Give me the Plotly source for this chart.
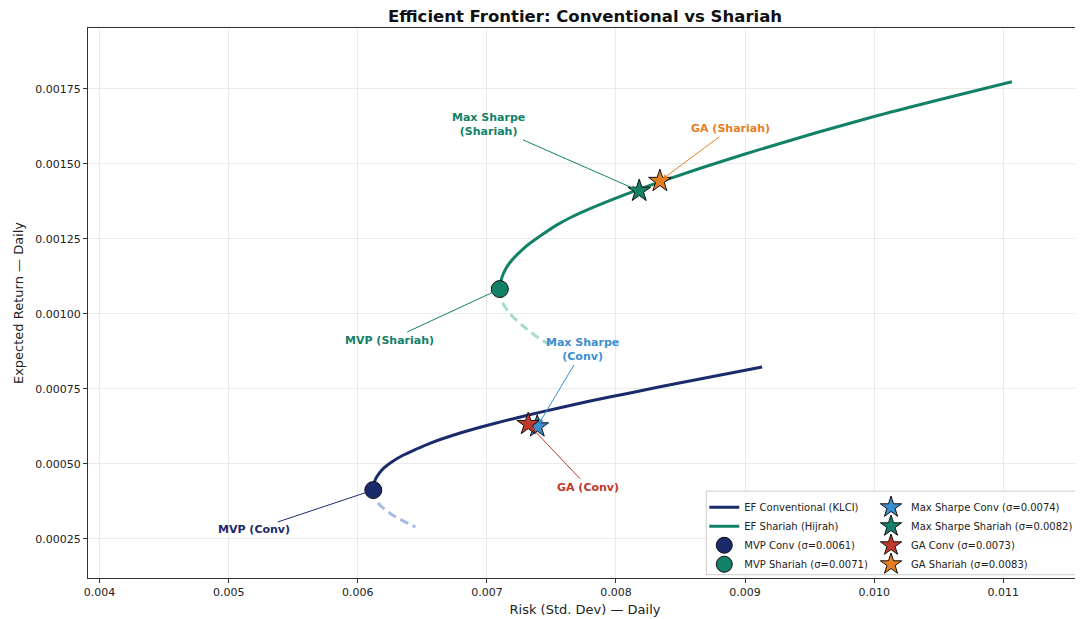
import plotly.graph_objects as go

# ---- data ----
conv_ef_risk = [0.006116, 0.006122, 0.006138, 0.006165, 0.006205, 0.00626, 0.00635, 0.00645,
                0.006558, 0.0068, 0.00705, 0.0073, 0.00755, 0.0078, 0.0081, 0.0085, 0.009132]
conv_ef_ret = [0.000413, 0.00043, 0.00045, 0.000469, 0.000488, 0.000506, 0.000529, 0.000549,
               0.000569, 0.000604, 0.000634, 0.000661, 0.000686, 0.00071, 0.000736, 0.000771,
               0.000823]
conv_low_risk = [0.006116, 0.006128, 0.006157, 0.006179, 0.006269, 0.006446]
conv_low_ret = [0.000413, 0.00039, 0.00037, 0.00036, 0.00033, 0.00029]

shar_ef_risk = [0.0071, 0.007104, 0.007115, 0.007134, 0.00716, 0.007195, 0.00724, 0.00731,
                0.0074, 0.00754, 0.00766, 0.0078, 0.00806, 0.00834, 0.009, 0.01, 0.011067]
shar_ef_ret = [0.001083, 0.0011, 0.00112, 0.00114, 0.00116, 0.00118, 0.0012, 0.001228,
               0.001256, 0.001296, 0.001324, 0.001351, 0.001396, 0.00144, 0.001533, 0.001658,
               0.001774]
shar_low_risk = [0.0071, 0.00712, 0.00718, 0.00728, 0.0074, 0.00751]
shar_low_ret = [0.001083, 0.00104, 0.001, 0.00096, 0.00092, 0.000893]

points = {
    "MVP Conv": (0.00612, 0.000413, "0.0061"),
    "MVP Shariah": (0.0071, 0.001083, "0.0071"),
    "Max Sharpe Conv": (0.00739, 0.000625, "0.0074"),
    "Max Sharpe Shariah": (0.00818, 0.00141, "0.0082"),
    "GA Conv": (0.00732, 0.000633, "0.0073"),
    "GA Shariah": (0.00834, 0.001443, "0.0083"),
}

NAVY = "#1b2a6b"
TEAL = "#138068"
C_MS_CONV = "#3a8fd0"
C_GA_CONV = "#c0392b"
C_GA_SHAR = "#e67e22"

FONT = "DejaVu Sans"

fig = go.Figure()

# dashed inefficient parts
fig.add_trace(go.Scatter(x=conv_low_risk, y=conv_low_ret, mode="lines", line_shape="spline",
                         line=dict(color="#a9b9e6", width=3, dash="9px,5px", smoothing=0.8),
                         showlegend=False, hoverinfo="skip"))
fig.add_trace(go.Scatter(x=shar_low_risk, y=shar_low_ret, mode="lines", line_shape="spline",
                         line=dict(color="#a6dccc", width=3, dash="9px,5px", smoothing=0.8),
                         showlegend=False, hoverinfo="skip"))

# efficient frontiers
fig.add_trace(go.Scatter(x=conv_ef_risk, y=conv_ef_ret, mode="lines", line_shape="spline",
                         line=dict(color=NAVY, width=3, smoothing=0.8),
                         name="EF Conventional (KLCI)", legend="legend", legendrank=1))
fig.add_trace(go.Scatter(x=shar_ef_risk, y=shar_ef_ret, mode="lines", line_shape="spline",
                         line=dict(color=TEAL, width=3, smoothing=0.8),
                         name="EF Shariah (Hijrah)", legend="legend", legendrank=2))

def add_pt(key, color, symbol, size, legend, rank):
    x, y, s = points[key]
    fig.add_trace(go.Scatter(x=[x], y=[y], mode="markers",
                             marker=dict(color=color, symbol=symbol, size=size,
                                         line=dict(color="#111111", width=1)),
                             name=f"{key} (σ={s})", legend=legend, legendrank=rank))

add_pt("MVP Conv", NAVY, "circle", 17, "legend", 3)
add_pt("MVP Shariah", TEAL, "circle", 17, "legend", 4)
add_pt("Max Sharpe Conv", C_MS_CONV, "star", 17, "legend2", 1)
add_pt("Max Sharpe Shariah", TEAL, "star", 17, "legend2", 2)
add_pt("GA Conv", C_GA_CONV, "star", 17, "legend2", 3)
add_pt("GA Shariah", C_GA_SHAR, "star", 17, "legend2", 4)

# annotations: (text, point key, text x, text y, color)
ann = [
    ("Max Sharpe<br>(Shariah)", "Max Sharpe Shariah", 0.007016, 0.00163, TEAL),
    ("GA (Shariah)", "GA Shariah", 0.008884, 0.001617, C_GA_SHAR),
    ("MVP (Shariah)", "MVP Shariah", 0.006248, 0.000913, TEAL),
    ("Max Sharpe<br>(Conv)", "Max Sharpe Conv", 0.007744, 0.00088, C_MS_CONV),
    ("GA (Conv)", "GA Conv", 0.007783, 0.000423, C_GA_CONV),
    ("MVP (Conv)", "MVP Conv", 0.005194, 0.00028, NAVY),
]
for text, key, tx, ty, col in ann:
    px, py, _ = points[key]
    fig.add_annotation(x=px, y=py, ax=tx, ay=ty, axref="x", ayref="y", xref="x", yref="y",
                       text=f"<b>{text}</b>", showarrow=True, arrowhead=2, arrowsize=1,
                       arrowwidth=1, arrowcolor=col, standoff=3,
                       font=dict(family=FONT, size=11, color=col), align="center")

# legend frame
fig.add_shape(type="rect", xref="paper", yref="paper", x0=0.622, x1=0.998, y0=0.006, y1=0.158,
              fillcolor="rgba(255,255,255,0.85)", line=dict(color="#cccccc", width=1),
              layer="above")

# page body has an 8px margin: shrink figure and offset margins to compensate
fig.update_layout(
    width=1075, height=611,
    margin=dict(l=80, r=1, t=20, b=41),
    paper_bgcolor="white", plot_bgcolor="white",
    font=dict(family=FONT, size=11, color="#222222"),
    title=dict(text="<b>Efficient Frontier: Conventional vs Shariah</b>", x=0.5, xref="paper",
               xanchor="center", y=0.987, yanchor="middle",
               font=dict(family=FONT, size=16.5, color="#111111")),
    legend=dict(x=0.62, y=0.155, xanchor="left", yanchor="top", bgcolor="rgba(0,0,0,0)",
                font=dict(family=FONT, size=10, color="#222222"), tracegroupgap=0,
                traceorder="normal", itemwidth=30),
    legend2=dict(x=0.996, y=0.155, xanchor="right", yanchor="top", bgcolor="rgba(0,0,0,0)",
                 font=dict(family=FONT, size=10, color="#222222"), tracegroupgap=0,
                 traceorder="normal", itemwidth=30),
    xaxis=dict(range=[0.00391, 0.01161], tickvals=[0.004, 0.005, 0.006, 0.007, 0.008, 0.009,
                                                    0.010, 0.011],
               tickformat=".3f", showgrid=True, gridcolor="#ebebeb", zeroline=False,
               showline=True, linecolor="#333333", linewidth=1, mirror=True,
               ticks="outside", ticklen=4, tickcolor="#333333",
               title=dict(text="Risk (Std. Dev) — Daily", font=dict(size=13), standoff=6)),
    yaxis=dict(range=[0.00012, 0.001953], tickvals=[0.00025, 0.0005, 0.00075, 0.001, 0.00125,
                                                     0.0015, 0.00175],
               tickformat=".5f", showgrid=True, gridcolor="#ebebeb", zeroline=False,
               showline=True, linecolor="#333333", linewidth=1, mirror=True,
               ticks="outside", ticklen=4, tickcolor="#333333",
               title=dict(text="Expected Return — Daily", font=dict(size=13), standoff=8)),
)

fig.write_html("out.html")
